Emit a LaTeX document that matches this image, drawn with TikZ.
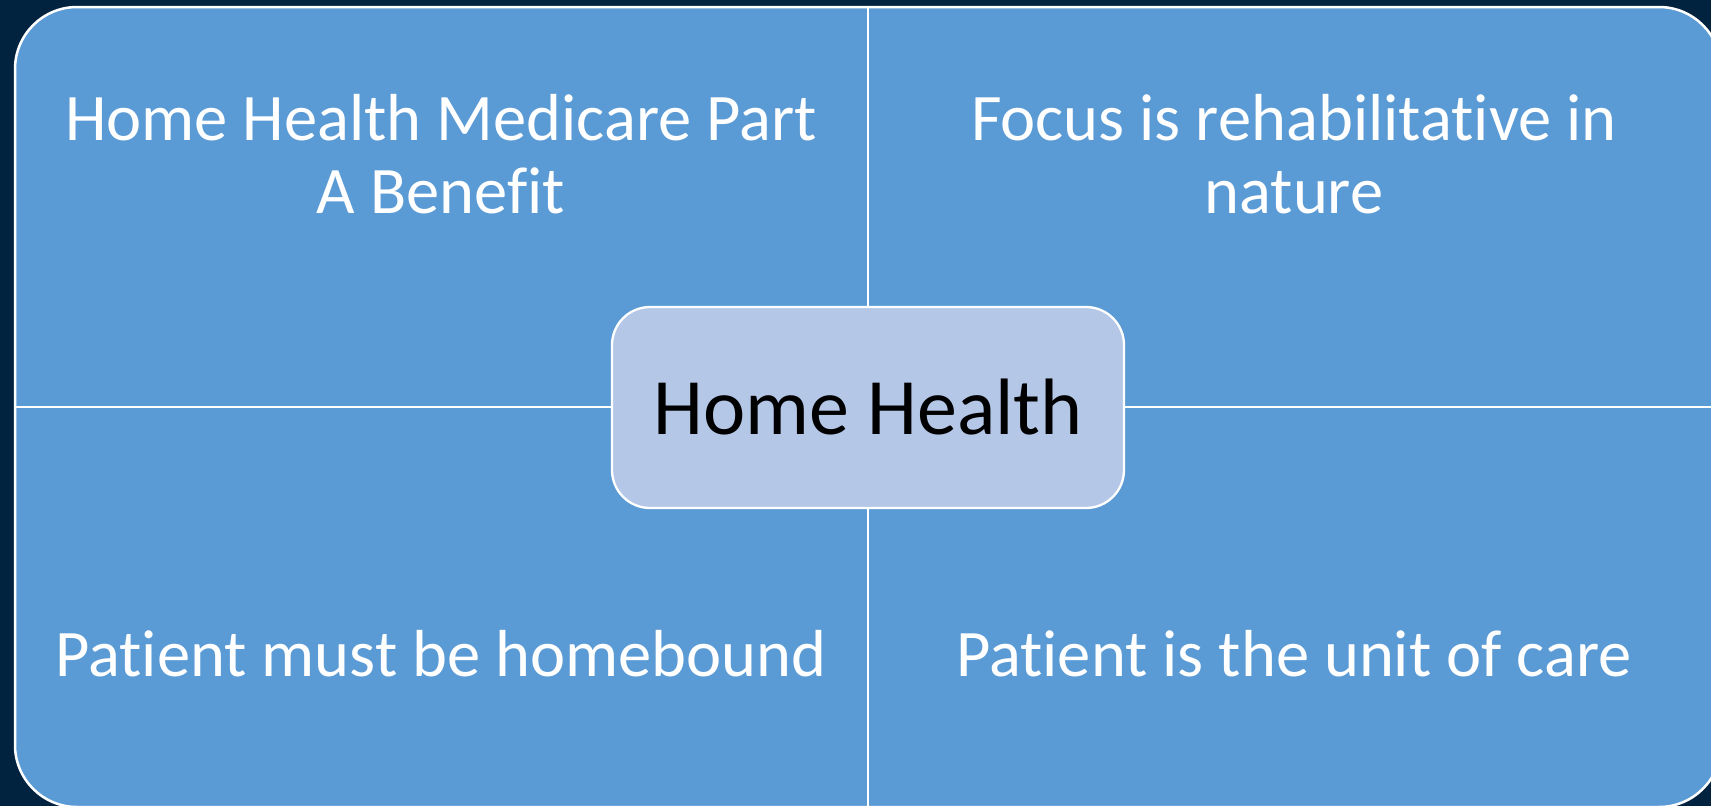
\documentclass[tikz,border=0pt]{standalone}
\usepackage{fontspec}
\setmainfont{Carlito}[Ligatures={NoCommon,NoContextual},RawFeature={-liga;-clig;-dlig}]
\definecolor{navybg}{RGB}{2,35,64}
\definecolor{quadblue}{RGB}{91,155,213}
\definecolor{hubblue}{RGB}{180,199,231}
\begin{document}
\begin{tikzpicture}[x=1pt,y=-1pt]
  \fill[navybg] (0,0) rectangle (1711,806);
  \useasboundingbox (0,0) rectangle (1711,806);

  % outer panel
  \draw[white,line width=2.5pt,fill=quadblue,rounded corners=62pt] (15,7) rectangle (1721,807);

  % centre
  \node[draw=white,line width=2.3pt,fill=hubblue,rounded corners=38pt,
        minimum width=512pt,minimum height=201pt,inner sep=0pt,
        font=\fontsize{80}{96}\selectfont] (hub) at (868,407.5) {Home Health};

  \coordinate (N) at (868,7);
  \coordinate (S) at (868,807);
  \coordinate (W) at (15,407);
  \coordinate (E) at (1721,407);

  \begin{scope}[every path/.style={draw=white,line width=2.3pt}]
    \path (hub.north) -- (N);
    \path (hub.south) -- (S);
    \path (hub.west |- W) -- (W);
    \path (hub.east |- E) -- (E);
  \end{scope}

  \begin{scope}[every node/.style={text=white,font=\fontsize{66.5}{73}\selectfont,align=center,anchor=base}]
    \node (partA) at (441,213) {Home Health Medicare Part\\A Benefit};
    \node (rehab) at (1294,213) {Focus is rehabilitative in\\nature};
    \node (homebound) at (441,676) {Patient must be homebound};
    \node (unit) at (1294,676) {Patient is the unit of care};
  \end{scope}
\end{tikzpicture}
\end{document}
